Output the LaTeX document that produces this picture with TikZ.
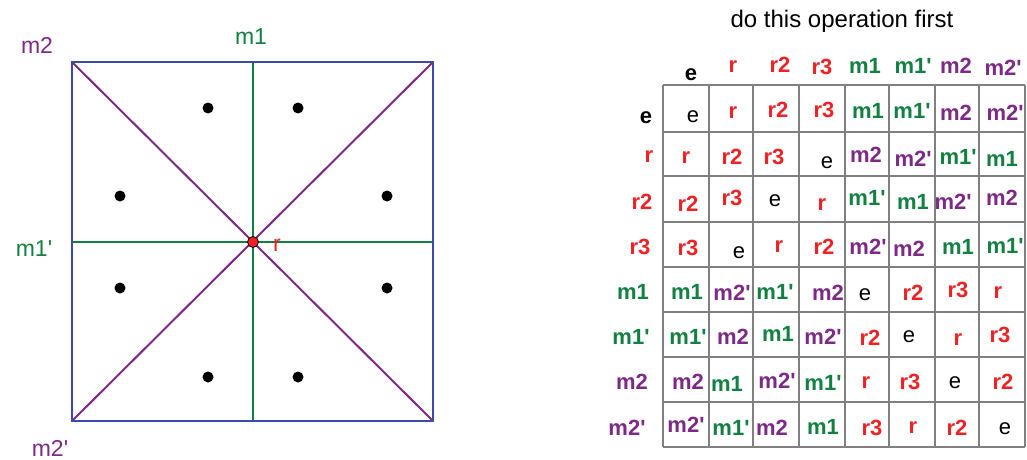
\documentclass[tikz,border=0pt]{standalone}
\usepackage{fontspec}
\setmainfont{Liberation Sans}[Ligatures=TeXOff]
\definecolor{cred}{HTML}{EE2224}
\definecolor{cgrn}{HTML}{118040}
\definecolor{cpur}{HTML}{7D2A86}
\definecolor{cblu}{HTML}{3C4BA8}
\definecolor{cgry}{HTML}{808080}
\tikzset{
  txt/.style={inner sep=0pt, anchor=center, font=\fontsize{22}{26}\selectfont},
  bld/.style={inner sep=0pt, anchor=center, font=\fontsize{22}{26}\selectfont\bfseries},
  lbl/.style={inner sep=0pt, anchor=center, font=\fontsize{23}{27}\selectfont},
  R/.style={text=cred}, G/.style={text=cgrn}, P/.style={text=cpur}, K/.style={text=black},
  gridline/.style={draw=cgry, line width=2.5pt},
  sqline/.style={draw=cblu, line width=2pt},
  gline/.style={draw=cgrn, line width=2pt},
  pline/.style={draw=cpur, line width=2pt},
  pt/.style={circle, fill=black, inner sep=0pt, minimum size=11pt},
  origin/.style={circle, fill=cred, draw=black, line width=0.8pt, inner sep=0pt, minimum size=11pt}
}
\newcommand\Cell[5]{\node[#4] (#1) at (#2,#3) {#5};}
\begin{document}
\begin{tikzpicture}[x=1pt,y=-1pt]
\useasboundingbox (0,0) rectangle (1027,460);
% ---------- left diagram ----------
\coordinate (tl) at (72,62);
\coordinate (tr) at (433,62);
\coordinate (bl) at (72,421);
\coordinate (br) at (433,421);
\coordinate (tm) at (253,62);
\coordinate (bm) at (253,421);
\coordinate (lm) at (72,242);
\coordinate (rm) at (433,242);
\draw[gline] (tm) -- (bm);
\draw[gline] (lm) -- (rm);
\draw[pline] (tl) -- (br);
\draw[pline] (tr) -- (bl);
\draw[sqline] (tl) rectangle (br);
\node[origin] (O) at (253,242) {};
\node[pt] (d1) at (208,108) {};
\node[pt] (d2) at (298,108) {};
\node[pt] (d3) at (120,196) {};
\node[pt] (d4) at (387,196) {};
\node[pt] (d5) at (120,288) {};
\node[pt] (d6) at (387,288) {};
\node[pt] (d7) at (208,377) {};
\node[pt] (d8) at (298,377) {};
\node[lbl,P] (Lm2) at (37,45) {m2};
\node[lbl,G] (Lm1) at (251,37) {m1};
\node[lbl,G] (Lm1p) at (34,249) {m1'};
\node[lbl,P] (Lm2p) at (50,448) {m2'};
\node[lbl,R] (Lr) at (277,245) {r};
% ---------- table ----------
\node[inner sep=0pt, anchor=center, font=\fontsize{24}{28}\selectfont] (title) at (842,21) {do this operation first};
\foreach \x in {663,709,753,799,845,889,935,979,1025}
  \draw[gridline] (\x,85) -- (\x,447);
\foreach \y in {85,132,176,222,267,312,357,402,447}
  \draw[gridline] (663,\y) -- (1025,\y);
% headers
\Cell{h0}{691}{75}{bld,K}{e}
\Cell{h1}{733}{67}{bld,R}{r}
\Cell{h2}{780}{65}{bld,R}{r2}
\Cell{h3}{822}{67}{bld,R}{r3}
\Cell{h4}{865}{66}{bld,G}{m1}
\Cell{h5}{913}{66}{bld,G}{m1'}
\Cell{h6}{956}{66}{bld,P}{m2}
\Cell{h7}{1003}{68}{bld,P}{m2'}
% row labels
\Cell{l0}{646}{118}{bld,K}{e}
\Cell{l1}{649}{157}{bld,R}{r}
\Cell{l2}{642}{202}{bld,R}{r2}
\Cell{l3}{640}{247}{bld,R}{r3}
\Cell{l4}{633}{292}{bld,G}{m1}
\Cell{l5}{631}{337}{bld,G}{m1'}
\Cell{l6}{632}{382}{bld,P}{m2}
\Cell{l7}{627}{428}{bld,P}{m2'}
% row 0
\Cell{c00}{693}{117}{txt,K}{e}
\Cell{c01}{733}{113}{bld,R}{r}
\Cell{c02}{778}{110}{bld,R}{r2}
\Cell{c03}{824}{110}{bld,R}{r3}
\Cell{c04}{868}{111}{bld,G}{m1}
\Cell{c05}{912}{111}{bld,G}{m1'}
\Cell{c06}{956}{113}{bld,P}{m2}
\Cell{c07}{1005}{113}{bld,P}{m2'}
% row 1
\Cell{c10}{686}{158}{bld,R}{r}
\Cell{c11}{732}{157}{bld,R}{r2}
\Cell{c12}{774}{157}{bld,R}{r3}
\Cell{c13}{827}{163}{txt,K}{e}
\Cell{c14}{866}{155}{bld,P}{m2}
\Cell{c15}{913}{159}{bld,P}{m2'}
\Cell{c16}{958}{157}{bld,G}{m1'}
\Cell{c17}{1002}{159}{bld,G}{m1}
% row 2
\Cell{c20}{688}{204}{bld,R}{r2}
\Cell{c21}{732}{198}{bld,R}{r3}
\Cell{c22}{775}{201}{txt,K}{e}
\Cell{c23}{822}{205}{bld,R}{r}
\Cell{c24}{867}{198}{bld,G}{m1'}
\Cell{c25}{913}{202}{bld,G}{m1}
\Cell{c26}{953}{202}{bld,P}{m2'}
\Cell{c27}{1002}{198}{bld,P}{m2}
% row 3
\Cell{c30}{688}{248}{bld,R}{r3}
\Cell{c31}{739}{253}{txt,K}{e}
\Cell{c32}{779}{247}{bld,R}{r}
\Cell{c33}{824}{247}{bld,R}{r2}
\Cell{c34}{868}{247}{bld,P}{m2'}
\Cell{c35}{909}{249}{bld,P}{m2}
\Cell{c36}{958}{247}{bld,G}{m1}
\Cell{c37}{1005}{246}{bld,G}{m1'}
% row 4
\Cell{c40}{687}{292}{bld,G}{m1}
\Cell{c41}{732}{293}{bld,P}{m2'}
\Cell{c42}{775}{292}{bld,G}{m1'}
\Cell{c43}{828}{293}{bld,P}{m2}
\Cell{c44}{865}{295}{txt,K}{e}
\Cell{c45}{913}{293}{bld,R}{r2}
\Cell{c46}{958}{290}{bld,R}{r3}
\Cell{c47}{998}{293}{bld,R}{r}
% row 5
\Cell{c50}{688}{337}{bld,G}{m1'}
\Cell{c51}{733}{337}{bld,P}{m2}
\Cell{c52}{778}{334}{bld,G}{m1}
\Cell{c53}{823}{337}{bld,P}{m2'}
\Cell{c54}{870}{338}{bld,R}{r2}
\Cell{c55}{909}{337}{txt,K}{e}
\Cell{c56}{958}{340}{bld,R}{r}
\Cell{c57}{1000}{335}{bld,R}{r3}
% row 6
\Cell{c60}{688}{382}{bld,P}{m2}
\Cell{c61}{727}{384}{bld,G}{m1}
\Cell{c62}{777}{381}{bld,P}{m2'}
\Cell{c63}{823}{383}{bld,G}{m1'}
\Cell{c64}{866}{383}{bld,R}{r}
\Cell{c65}{910}{382}{bld,R}{r3}
\Cell{c66}{955}{383}{txt,K}{e}
\Cell{c67}{1003}{382}{bld,R}{r2}
% row 7
\Cell{c70}{686}{425}{bld,P}{m2'}
\Cell{c71}{731}{428}{bld,G}{m1'}
\Cell{c72}{772}{428}{bld,P}{m2}
\Cell{c73}{823}{427}{bld,G}{m1}
\Cell{c74}{872}{428}{bld,R}{r3}
\Cell{c75}{913}{428}{bld,R}{r}
\Cell{c76}{957}{428}{bld,R}{r2}
\Cell{c77}{1005}{429}{txt,K}{e}
\end{tikzpicture}
\end{document}
